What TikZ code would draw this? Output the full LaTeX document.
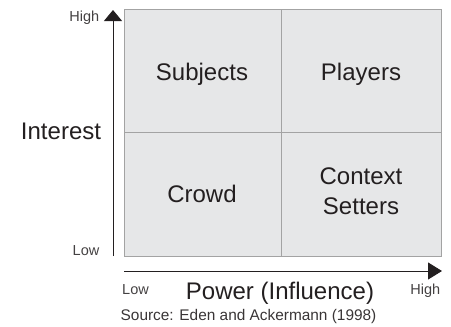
\documentclass[tikz,border=0pt]{standalone}
\usepackage{fontspec}
\setmainfont{Liberation Sans}
\usetikzlibrary{arrows.meta}
\definecolor{ink}{HTML}{231F20}
\definecolor{cellfill}{HTML}{E6E7E8}
\definecolor{cellline}{HTML}{A3A3A3}
\begin{document}
\begin{tikzpicture}[x=1pt,y=-1pt,
  cell/.style={fill=cellfill,draw=cellline,line width=0.9pt},
  quadlabel/.style={font=\fontsize{24}{30}\selectfont,text=ink,inner sep=0pt,align=center},
  axislabel/.style={font=\fontsize{24}{28}\selectfont,text=ink,inner sep=0pt},
  ticklabel/.style={font=\fontsize{14.5}{17}\selectfont,text=ink!85,inner sep=0pt},
  notelabel/.style={font=\fontsize{15.4}{18}\selectfont,text=ink!90,inner sep=0pt},
  axis/.style={draw=ink,line width=1pt}]
\useasboundingbox (0,0) rectangle (451,327);

% stakeholder grid
\draw[cell] (124,9) rectangle (441,256);
\draw[draw=cellline,line width=0.9pt] (281,9) -- (281,256);
\draw[draw=cellline,line width=0.9pt] (124,132) -- (441,132);

% quadrant names
\node[quadlabel,anchor=base] (subjects) at (202,80.7) {Subjects};
\node[quadlabel,anchor=base] (players) at (361,80.7) {Players};
\node[quadlabel,anchor=base] (crowd) at (202,202.5) {Crowd};
\node[quadlabel] (setters) at (361,191.2) {Context\\Setters};

% axes
\coordinate (ybot) at (113,256);
\coordinate (ytop) at (113,10);
\coordinate (xleft) at (124,271);
\coordinate (xright) at (442,271);
\draw[axis,-{Triangle[length=11pt,width=18pt]}] (ybot) -- (ytop);
\draw[axis,-{Triangle[length=14pt,width=17pt]}] (xleft) -- (xright);

% axis titles and ends
\node[axislabel,anchor=center] (interest) at (61,131) {Interest};
\node[ticklabel,anchor=base east] (yhigh) at (99.5,21) {High};
\node[ticklabel,anchor=base east] (ylow) at (99.5,255) {Low};
\node[ticklabel,anchor=base west] (xlow) at (122,294) {Low};
\node[axislabel,anchor=base] (power) at (280,299) {Power (Influence)};
\node[ticklabel,anchor=base east] (xhigh) at (440.5,294) {High};

% citation
\node[notelabel,anchor=base west] (source) at (120.5,320) {Source: Eden and Ackermann (1998)};
\end{tikzpicture}
\end{document}
